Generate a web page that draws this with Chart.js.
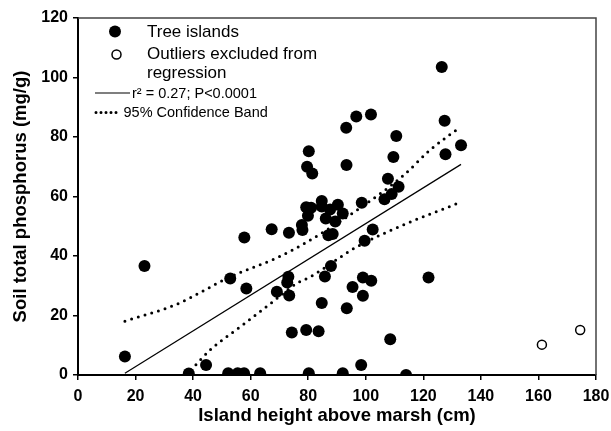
<!DOCTYPE html>
<html>
<head>
<meta charset="utf-8">
<script src="https://cdn.jsdelivr.net/npm/chart.js@4/dist/chart.umd.min.js"></script>
<style>
  body { margin: 0; background: #fff; }
  #wrap { width: 611px; height: 431px; }
</style>
</head>
<body>
<div id="wrap"><canvas id="chart" width="611" height="431"></canvas></div>
<script>
// tree islands (height cm, TP mg/g)
const islandX = [16.3, 23.1, 38.5, 44.5, 52.2, 52.9, 55.5, 57.7, 57.8, 58.5, 63.3, 67.3, 69.1, 72.7, 73.1, 73.3, 73.4, 74.3,
    77.8, 78.0, 79.3, 79.3, 79.9, 79.6, 80.2, 80.2, 81.0, 81.4, 83.6, 84.7, 84.7, 84.7, 85.8, 86.1, 87.0, 87.6, 87.9, 88.5,
    89.4, 90.3, 92.0, 92.0, 93.2, 93.3, 93.4, 95.4, 96.7, 98.4, 98.6, 99.0, 99.0, 99.6, 101.8, 101.9, 102.4, 106.5, 107.7,
    108.5, 109.0, 109.6, 110.6, 111.4, 114.0, 121.8, 126.4, 127.4, 127.7, 133.1];
const islandY = [6.2, 36.6, 0.5, 3.4, 0.6, 32.4, 0.6, 0.6, 46.2, 29.1, 0.6, 49.0, 28.0, 31.1, 33.0, 47.8, 26.7, 14.3,
    50.4, 48.7, 15.1, 56.4, 53.5, 70.0, 75.2, 0.6, 56.2, 67.7, 14.7, 58.5, 56.6, 24.2, 33.1, 52.6, 47.0, 55.6, 36.6, 47.4,
    51.6, 57.2, 54.3, 0.6, 83.1, 70.6, 22.4, 29.6, 86.9, 3.4, 57.9, 32.8, 26.6, 45.1, 87.6, 31.7, 48.9, 59.1, 66.0,
    12.0, 60.8, 73.3, 80.3, 63.3, 0.0, 32.8, 103.5, 85.5, 74.2, 77.2];

const outlierX = [161.2, 174.5];
const outlierY = [10.2, 15.1];

const fitX = [16.3, 133.1];
const fitY = [0.6, 70.8];

const upperX = [16.3, 34.3, 52.9, 69.1, 79.5, 96.9, 113.1, 122.4, 132.8];
const upperY = [18.1, 23.8, 33.0, 39.4, 44.7, 55.4, 67.1, 75.7, 83.3];
const lowerX = [37.7, 45.9, 57.5, 67.9, 76.0, 80.7, 96.9, 114.2, 131.7];
const lowerY = [0.0, 8.4, 17.0, 24.8, 30.8, 33.0, 43.1, 50.9, 57.6];

const labels = ["Tree islands", "Outliers excluded from|regression", "r\u00b2 = 0.27; P<0.0001", "95% Confidence Band"];

const toPts = (xs, ys) => xs.map((x, i) => ({ x: x, y: ys[i] }));

const axisFont = { family: "'Liberation Sans', Arial, sans-serif", size: 16, weight: 'bold' };
const titleFont = { family: "'Liberation Sans', Arial, sans-serif", size: 18.5, weight: 'bold' };

const framePlugin = {
    id: 'frame',
    afterDatasetsDraw(chart) {
        const { ctx, chartArea: a } = chart;
        ctx.save();
        ctx.strokeStyle = '#444';
        ctx.lineWidth = 1.5;
        ctx.beginPath();
        ctx.moveTo(a.left, a.top);
        ctx.lineTo(a.right, a.top);
        ctx.lineTo(a.right, a.bottom);
        ctx.stroke();
        ctx.restore();
    }
};

const legendPlugin = {
    id: 'boxLegend',
    afterDraw(chart) {
        const ctx = chart.ctx;
        ctx.save();
        ctx.fillStyle = '#000';
        ctx.strokeStyle = '#000';
        ctx.textBaseline = 'middle';
        ctx.textAlign = 'left';

        // filled marker
        ctx.beginPath();
        ctx.arc(115, 31.5, 6, 0, Math.PI * 2);
        ctx.fill();
        ctx.font = "17px 'Liberation Sans', Arial, sans-serif";
        ctx.fillText(labels[0], 147, 32);

        // open marker
        ctx.beginPath();
        ctx.arc(116.5, 54.5, 4.5, 0, Math.PI * 2);
        ctx.lineWidth = 1.5;
        ctx.stroke();
        const parts = labels[1].split('|');
        ctx.fillText(parts[0], 147, 54.5);
        ctx.fillText(parts[1], 147, 73.5);

        // fit line
        ctx.lineWidth = 1.2;
        ctx.beginPath();
        ctx.moveTo(95, 93);
        ctx.lineTo(130, 93);
        ctx.stroke();
        ctx.font = "14.5px 'Liberation Sans', Arial, sans-serif";
        ctx.fillText(labels[2], 132, 93.5);

        // dotted band
        ctx.lineWidth = 3;
        ctx.lineCap = 'round';
        ctx.setLineDash([0, 5]);
        ctx.beginPath();
        ctx.moveTo(96, 112.5);
        ctx.lineTo(120, 112.5);
        ctx.stroke();
        ctx.setLineDash([]);
        ctx.fillText(labels[3], 123.5, 112.5);
        ctx.restore();
    }
};

new Chart(document.getElementById('chart'), {
    type: 'scatter',
    data: {
        datasets: [
            {
                label: 'Tree islands',
                data: toPts(islandX, islandY),
                pointRadius: 6,
                pointBackgroundColor: '#000',
                pointBorderColor: '#000',
                pointBorderWidth: 0
            },
            {
                label: 'Outliers',
                data: toPts(outlierX, outlierY),
                pointRadius: 4.5,
                pointBackgroundColor: '#fff',
                pointBorderColor: '#000',
                pointBorderWidth: 1.5
            },
            {
                label: 'Fit',
                data: toPts(fitX, fitY),
                showLine: true,
                pointRadius: 0,
                borderColor: '#000',
                borderWidth: 1.2
            },
            {
                label: 'Upper 95%',
                data: toPts(upperX, upperY),
                showLine: true,
                pointRadius: 0,
                borderColor: '#000',
                borderWidth: 3,
                borderDash: [0, 7],
                borderCapStyle: 'round',
                cubicInterpolationMode: 'monotone'
            },
            {
                label: 'Lower 95%',
                data: toPts(lowerX, lowerY),
                showLine: true,
                pointRadius: 0,
                borderColor: '#000',
                borderWidth: 3,
                borderDash: [0, 7],
                borderCapStyle: 'round',
                cubicInterpolationMode: 'monotone'
            }
        ]
    },
    options: {
        responsive: false,
        animation: false,
        layout: { padding: { top: 18, right: 0, left: 0, bottom: 0 } },
        plugins: {
            legend: { display: false },
            tooltip: { enabled: false }
        },
        scales: {
            x: {
                type: 'linear',
                min: 0,
                max: 180,
                ticks: { stepSize: 20, color: '#000', font: axisFont, padding: 7 },
                grid: { drawOnChartArea: false, tickLength: 5, color: '#000', lineWidth: 1.5 },
                border: { color: '#000', width: 2 },
                title: { display: true, text: 'Island height above marsh (cm)', color: '#000', font: titleFont, padding: { top: 0, bottom: 4 } },
                afterFit(scale) { scale.height = 56; scale.paddingRight = 15; }
            },
            y: {
                type: 'linear',
                min: 0,
                max: 120,
                ticks: { stepSize: 20, color: '#000', font: axisFont, padding: 5 },
                grid: { drawOnChartArea: false, tickLength: 5, color: '#000', lineWidth: 1.5 },
                border: { color: '#000', width: 2 },
                title: { display: true, text: 'Soil total phosphorus (mg/g)', color: '#000', font: titleFont, padding: { top: 10, bottom: 0 } },
                afterFit(scale) { scale.width = 78; }
            }
        }
    },
    plugins: [framePlugin, legendPlugin]
});
</script>
</body>
</html>
